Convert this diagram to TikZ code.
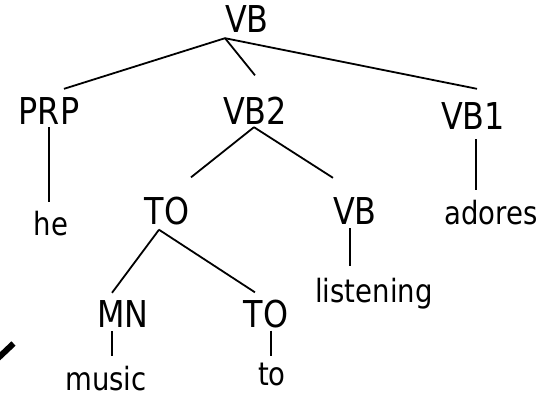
\documentclass[tikz,border=0pt]{standalone}
\usepackage{fontspec}
\setmainfont[FakeStretch=0.86]{DejaVu Sans}
\usetikzlibrary{positioning}

\begin{document}
\begin{tikzpicture}[x=1pt, y=-1pt,
  tag/.style={anchor=base, inner sep=0pt, font=\fontsize{37}{44}\selectfont},
  word/.style={anchor=base, inner sep=0pt, font=\fontsize{32}{38}\selectfont},
  branch/.style={line width=1.8pt},
]
  \useasboundingbox (0,0) rectangle (543,395);
  \clip (0,0) rectangle (543,395);

  % phrase labels
  \node[tag] (root) at (247,33) {VB};
  \node[tag] (prp) at (49,125) {PRP};
  \node[tag] (vbtwo) at (255,125) {VB2};
  \node[tag] (vbone) at (473,130) {VB1};
  \node[tag] (tomid) at (167,225) {TO};
  \node[tag] (vblow) at (355,225) {VB};
  \node[tag] (mn) at (123,327) {MN};
  \node[tag] (tolow) at (266,327) {TO};

  % words
  \node[word] (he) at (51,236) {he};
  \node[word] (adores) at (491,225) {adores};
  \node[word] (listening) at (374,302) {listening};
  \node[word] (music) at (106,390) {music};
  \node[word] (to) at (272,385) {to};

  % branches
  \coordinate (rootfork) at ([xshift=-22pt,yshift=-5pt]root.south);
  \draw[branch] (rootfork) -- ([xshift=15pt,yshift=9pt]prp.north);
  \draw[branch] (rootfork) -- ([yshift=22pt]vbtwo.north);
  \draw[branch] (rootfork) -- ([xshift=4pt,yshift=14pt]vbone.north);

  \coordinate (vbtwofork) at ([xshift=-1pt,yshift=-2pt]vbtwo.south);
  \draw[branch] (vbtwofork) -- ([xshift=24pt,yshift=20pt]tomid.north);
  \draw[branch] (vbtwofork) -- ([xshift=-22pt,yshift=20pt]vblow.north);

  \coordinate (tofork) at ([xshift=-8pt,yshift=-4pt]tomid.south);
  \draw[branch] (tofork) -- ([xshift=-11pt,yshift=7pt]mn.north);
  \draw[branch] (tofork) -- ([xshift=-11pt,yshift=7pt]tolow.north);

  % leaves
  \draw[branch] ([yshift=-2pt]prp.south) -- ([xshift=-2pt,yshift=9pt]he.north);
  \draw[branch] ([xshift=3pt,yshift=-9pt]vbone.south) -- ([xshift=-15pt,yshift=10pt]adores.north);
  \draw[branch] ([xshift=-5pt,yshift=-3pt]vblow.south) -- ([xshift=-24pt,yshift=11pt]listening.north);
  \draw[branch] ([xshift=-11pt,yshift=-4pt]mn.south) -- ([xshift=6pt,yshift=9pt]music.north);
  \draw[branch] ([xshift=5pt,yshift=-3pt]tolow.south) -- ([xshift=-1pt,yshift=6pt]to.north);

  % stray stroke at the left edge
  \draw[line width=6pt] (-5,361) -- (13.5,343.5);
\end{tikzpicture}
\end{document}
